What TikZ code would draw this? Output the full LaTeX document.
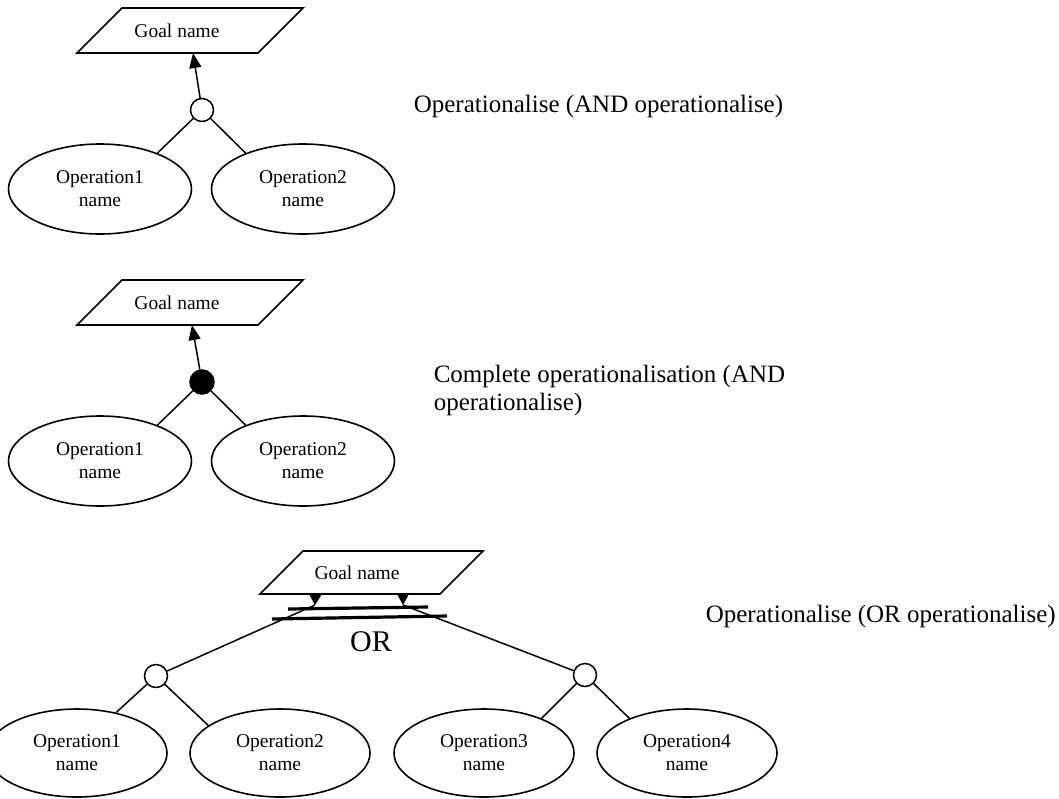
\documentclass[tikz,border=0pt]{standalone}
\usepackage{fontspec}
\setmainfont{Liberation Serif}
\usetikzlibrary{shapes.geometric,arrows.meta}

\begin{document}
\begin{tikzpicture}[x=1pt,y=-1pt,
  line width=1.6pt,
  opnode/.style={ellipse,draw,line width=1.6pt,inner sep=0pt,
    minimum width=183pt,minimum height=90pt,align=center,
    font=\fontsize{19.5}{23}\selectfont},
  opsmall/.style={opnode,minimum width=180pt,minimum height=88pt},
  goalshape/.style={draw,line width=1.6pt,line join=miter},
  goaltext/.style={inner sep=0pt,font=\fontsize{19.5}{23}\selectfont},
  andnode/.style={circle,draw,fill=white,line width=1.5pt,minimum size=23pt,inner sep=0pt},
  fullnode/.style={andnode,fill=black,minimum size=24pt},
  link/.style={line width=1.5pt},
  refine/.style={line width=1.5pt,-{Triangle[length=15pt,width=12pt]}},
  orhead/.style={fill=black},
  orbar/.style={line width=3.2pt},
  caption/.style={anchor=west,inner sep=0pt,align=left,
    font=\fontsize{25}{28}\selectfont}
]
\useasboundingbox (0,0) rectangle (1059,798);

% ---------- AND operationalisation ----------
\draw[goalshape] (122,8) -- (303,8) -- (258,53) -- (77,53) -- cycle;
\node[goaltext] (g1) at (177,31) {Goal name};
\coordinate (g1in) at (193,53);
\node[andnode] (c1) at (202,110) {};
\node[opnode] (e1a) at (100,189) {Operation1\\name};
\node[opnode] (e1b) at (303,189) {Operation2\\name};
\draw[refine] (c1) -- (g1in);
\draw[link] (c1) -- (e1a.32);
\draw[link] (c1) -- (e1b.148);
\node[caption] (t1) at (413,106) {Operationalise (AND operationalise)};

% ---------- complete operationalisation ----------
\draw[goalshape] (122,280) -- (303,280) -- (258,325) -- (77,325) -- cycle;
\node[goaltext] (g2) at (177,303) {Goal name};
\coordinate (g2in) at (192,325);
\node[fullnode] (c2) at (202,382) {};
\node[opnode] (e2a) at (100,461) {Operation1\\name};
\node[opnode] (e2b) at (303,461) {Operation2\\name};
\draw[refine] (c2) -- (g2in);
\draw[link] (c2) -- (e2a.32);
\draw[link] (c2) -- (e2b.148);
\node[caption] (t2) at (433,390) {Complete operationalisation (AND\\operationalise)};

% ---------- OR operationalisation ----------
\draw[goalshape] (303,551) -- (483,551) -- (440,594) -- (260,594) -- cycle;
\node[goaltext] (g3) at (357,573) {Goal name};
\coordinate (g3inA) at (315,605);
\coordinate (g3inB) at (403,605);
\node[andnode] (c3) at (156,676) {};
\node[andnode] (c4) at (585,675) {};
\node[opsmall] (e3a) at (77,753) {Operation1\\name};
\node[opsmall] (e3b) at (280,753) {Operation2\\name};
\node[opsmall] (e3c) at (484,753) {Operation3\\name};
\node[opsmall] (e3d) at (687,753) {Operation4\\name};
\draw[link] (c3) -- (g3inA);
\draw[link] (c4) -- (g3inB);
% arrow heads under the goal
\fill[orhead] (309,594) -- (322,594) -- (g3inA) -- cycle;
\fill[orhead] (397,594) -- (409,594) -- (g3inB) -- cycle;
\draw[link] (c3) -- (e3a.46);
\draw[link] (c3) -- (e3b.159);
\draw[link] (c4) -- (e3c.31);
\draw[link] (c4) -- (e3d.149);
% double bar marking the alternatives
\coordinate (barA1) at (288,609);
\coordinate (barA2) at (428,607);
\coordinate (barB1) at (272,619);
\coordinate (barB2) at (447,616);
\draw[orbar] (barA1) -- (barA2);
\draw[orbar] (barB1) -- (barB2);
\node[inner sep=0pt,font=\fontsize{30}{34}\selectfont] (or) at (371,642) {OR};
\node[caption] (t3) at (705,616) {Operationalise (OR operationalise)};
\end{tikzpicture}
\end{document}
